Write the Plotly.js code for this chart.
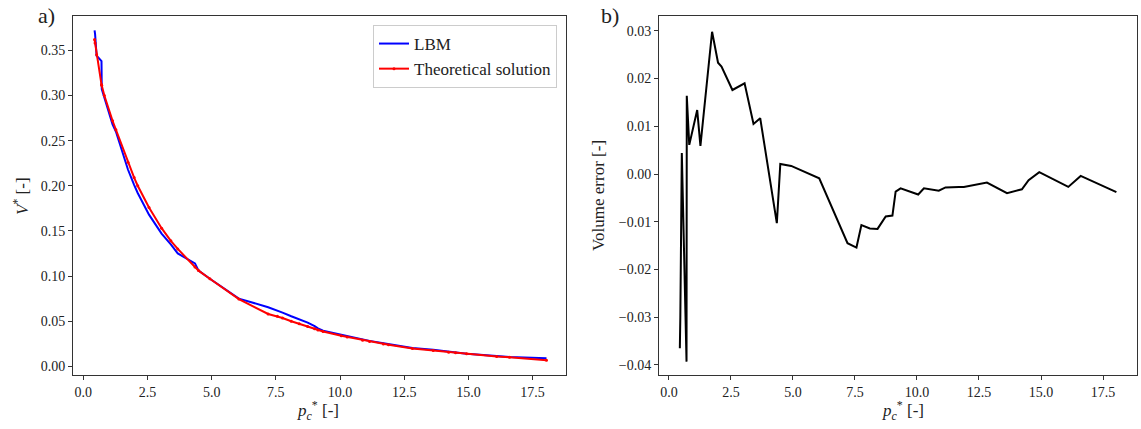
<!DOCTYPE html>
<html>
<head>
<meta charset="utf-8">
<script src="https://cdn.plot.ly/plotly-3.0.1.min.js"></script>
<style>html,body{margin:0;padding:0;background:#fff;}#chart{width:1141px;height:429px;}</style>
</head>
<body>
<div id="chart"></div>
<script>
// capillary pressure p_c* [-]
const pc = [0.44, 0.46, 0.52, 0.71, 0.72, 0.82, 1.14, 1.27, 1.74, 1.98, 2.12, 2.56, 3.05, 3.41, 3.68, 4.35, 4.49, 4.93, 6.06, 7.20, 7.56, 7.76, 8.10, 8.41, 8.74, 9.01, 9.14, 9.34, 10.05, 10.28, 10.88, 11.15, 11.69, 11.89, 12.82, 13.63, 14.23, 14.50, 14.93, 16.10, 16.60, 18.04];
// V* from LBM
const vLBM = [0.372, 0.368, 0.344, 0.338, 0.307, 0.298, 0.268, 0.260, 0.218, 0.201, 0.192, 0.168, 0.147, 0.135, 0.125, 0.114, 0.106, 0.097, 0.075, 0.0655, 0.062, 0.0595, 0.0555, 0.0525, 0.0485, 0.0445, 0.042, 0.0395, 0.0348, 0.0332, 0.0298, 0.0282, 0.0255, 0.0247, 0.0203, 0.0183, 0.0165, 0.0155, 0.0140, 0.0115, 0.0102, 0.0090];
// V* theoretical solution
const vTheory = [0.362, 0.358, 0.345, 0.312, 0.311, 0.300, 0.272, 0.262, 0.226, 0.209, 0.200, 0.176, 0.153, 0.139, 0.130, 0.110, 0.106, 0.097, 0.0745, 0.0580, 0.0555, 0.0535, 0.0500, 0.0472, 0.0440, 0.0415, 0.0403, 0.0385, 0.0338, 0.0325, 0.0290, 0.0275, 0.0248, 0.0240, 0.0198, 0.0175, 0.0157, 0.0150, 0.0138, 0.0110, 0.0100, 0.0067];
// volume error [-]
const volErr = [-0.0365, -0.0300, 0.0044, -0.0393, 0.0164, 0.0061, 0.0134, 0.0059, 0.0298, 0.0233, 0.0225, 0.0176, 0.0190, 0.0105, 0.0117, -0.0103, 0.0021, 0.0017, -0.0009, -0.0145, -0.0154, -0.0107, -0.0114, -0.0115, -0.0089, -0.0087, -0.0037, -0.0030, -0.0043, -0.0030, -0.0035, -0.0028, -0.0027, -0.0027, -0.0018, -0.0040, -0.0032, -0.0013, 0.0004, -0.0027, -0.0004, -0.0038];

const xTicks = [0, 2.5, 5, 7.5, 10, 12.5, 15, 17.5];
const xTickText = ['0.0', '2.5', '5.0', '7.5', '10.0', '12.5', '15.0', '17.5'];
const yTicksA = [0, 0.05, 0.10, 0.15, 0.20, 0.25, 0.30, 0.35];
const yTicksB = [-0.04, -0.03, -0.02, -0.01, 0, 0.01, 0.02, 0.03];

const FONT = 'Liberation Serif, Times New Roman, serif';
const W = 1141, H = 429;
const px = v => v / W, py = v => 1 - v / H;

const traces = [
  {x: pc, y: vLBM, type: 'scatter', mode: 'lines', name: 'LBM',
   line: {color: '#0000ff', width: 2}, xaxis: 'x', yaxis: 'y'},
  {x: pc, y: vTheory, type: 'scatter', mode: 'lines+markers', name: 'Theoretical solution',
   line: {color: '#ff0000', width: 2}, marker: {color: '#ff0000', size: 3}, xaxis: 'x', yaxis: 'y'},
  {x: pc, y: volErr, type: 'scatter', mode: 'lines', name: 'Volume error', showlegend: false,
   line: {color: '#000000', width: 2}, xaxis: 'x2', yaxis: 'y2'}
];

const axisCommon = {
  showline: true, mirror: true, linecolor: '#333', linewidth: 1,
  ticks: 'outside', ticklen: 4, tickwidth: 1, tickcolor: '#333',
  showgrid: false, zeroline: false, automargin: false,
  tickfont: {family: FONT, size: 14, color: '#222'}
};

function ann(text, x, y, size, angle) {
  return {text: text, x: px(x), y: py(y), xref: 'paper', yref: 'paper', showarrow: false,
          xanchor: 'center', yanchor: 'middle', textangle: angle || 0,
          font: {family: FONT, size: size, color: '#222'}};
}

const layout = {
  width: W, height: H,
  margin: {l: 0, r: 0, t: 0, b: 0},
  paper_bgcolor: '#fff', plot_bgcolor: '#fff',
  font: {family: FONT, color: '#222'},
  showlegend: true,
  legend: {
    x: px(557), y: py(25), xanchor: 'right', yanchor: 'top',
    bgcolor: 'rgba(255,255,255,0.9)', bordercolor: '#ccc', borderwidth: 1,
    font: {family: FONT, size: 17, color: '#222'}, tracegroupgap: 0
  },
  xaxis: Object.assign({}, axisCommon, {domain: [px(73), px(566)], range: [-0.4, 18.8],
    tickvals: xTicks, ticktext: xTickText, anchor: 'y'}),
  yaxis: Object.assign({}, axisCommon, {domain: [py(375), py(16)], range: [-0.0096, 0.388],
    tickvals: yTicksA, tickformat: '.2f', anchor: 'x'}),
  xaxis2: Object.assign({}, axisCommon, {domain: [px(659), px(1137)], range: [-0.4, 18.87],
    tickvals: xTicks, ticktext: xTickText, anchor: 'y2'}),
  yaxis2: Object.assign({}, axisCommon, {domain: [py(375), py(16)], range: [-0.0421, 0.0331],
    tickvals: yTicksB, tickformat: '.2f', anchor: 'x2'}),
  annotations: [
    ann('a)', 46, 15, 22),
    ann('b)', 610, 15, 22),
    ann('<i>p</i><sub><i>c</i></sub><sup>*</sup> [-]', 318, 410, 17),
    ann('<i>p</i><sub><i>c</i></sub><sup>*</sup> [-]', 903, 410, 17),
    ann('<i>V</i><sup>*</sup> [-]', 21, 196, 17, -90),
    ann('Volume error [-]', 598, 196, 17, -90)
  ]
};

Plotly.newPlot('chart', traces, layout, {displayModeBar: false, staticPlot: true});
</script>
</body>
</html>
